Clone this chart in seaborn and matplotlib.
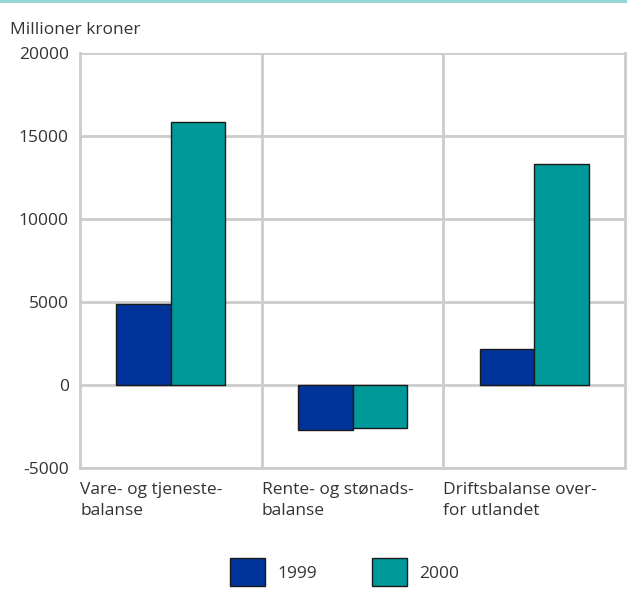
import pandas as pd
import seaborn as sns
import matplotlib.pyplot as plt
import matplotlib.transforms as mtransforms
from matplotlib.lines import Line2D

categories = ["Vare- og tjeneste-\nbalanse", "Rente- og stønads-\nbalanse", "Driftsbalanse over-\nfor utlandet"]
years = ["1999", "2000"]
values_1999 = [4880, -2700, 2180]
values_2000 = [15820, -2580, 13300]
y_ticks = [-5000, 0, 5000, 10000, 15000, 20000]

df = pd.DataFrame({
    "kategori": categories * 2,
    "år": [years[0]] * 3 + [years[1]] * 3,
    "verdi": values_1999 + values_2000,
})

sns.set_style("white")
plt.rcParams["font.family"] = ["Open Sans", "DejaVu Sans"]
plt.rcParams["text.color"] = "#333333"

fig = plt.figure(figsize=(6.27, 5.9), dpi=100)
ax = fig.add_axes([0.1276, 0.2068, 0.8694, 0.7032])

sns.barplot(data=df, x="kategori", y="verdi", hue="år", order=categories,
            hue_order=years, palette=["#003399", "#009999"], saturation=1,
            width=0.6, edgecolor="#1a1a1a", linewidth=1, ax=ax, legend=True)

ax.set_xlim(-0.5, 2.5)
ax.set_ylim(-5000, 20000)
ax.set_yticks(y_ticks)
ax.set_yticklabels([str(v) for v in y_ticks], fontsize=12.5, color="#333333")
ax.yaxis.grid(True, color="#cccccc", linewidth=2)
ax.set_axisbelow(True)
for xb in [0.5, 1.5]:
    ax.axvline(xb, color="#cccccc", linewidth=2, zorder=0)
for s in ax.spines.values():
    s.set_color("#cccccc")
    s.set_linewidth(2)
ax.spines["top"].set_visible(False)
ax.tick_params(length=0)

ax.set_xticks([-0.5, 0.5, 1.5])
ax.set_xticklabels(categories, fontsize=12.5, ha="left", color="#333333", linespacing=1.45)
offset = mtransforms.ScaledTranslation(8 / 100, 0, fig.dpi_scale_trans)
for lbl in ax.get_xticklabels():
    lbl.set_transform(lbl.get_transform() + offset)
ax.tick_params(axis="x", pad=10)
ax.tick_params(axis="y", pad=8)
ax.set_xlabel("")
ax.set_ylabel("")

handles, labels = ax.get_legend_handles_labels()
ax.get_legend().remove()
fig.legend(handles, labels, loc="center", bbox_to_anchor=(0.55, 0.03), ncol=2,
           frameon=False, fontsize=12.5, handlelength=2.0, handleheight=2.1,
           handletextpad=0.7, columnspacing=3.2)

fig.text(0.016, 0.95, "Millioner kroner", fontsize=12.5, va="center", ha="left")
fig.add_artist(Line2D([0, 1], [0.998, 0.998], color="#8fd3d3", linewidth=2,
                      transform=fig.transFigure))

fig.savefig("out.png", dpi=100)
